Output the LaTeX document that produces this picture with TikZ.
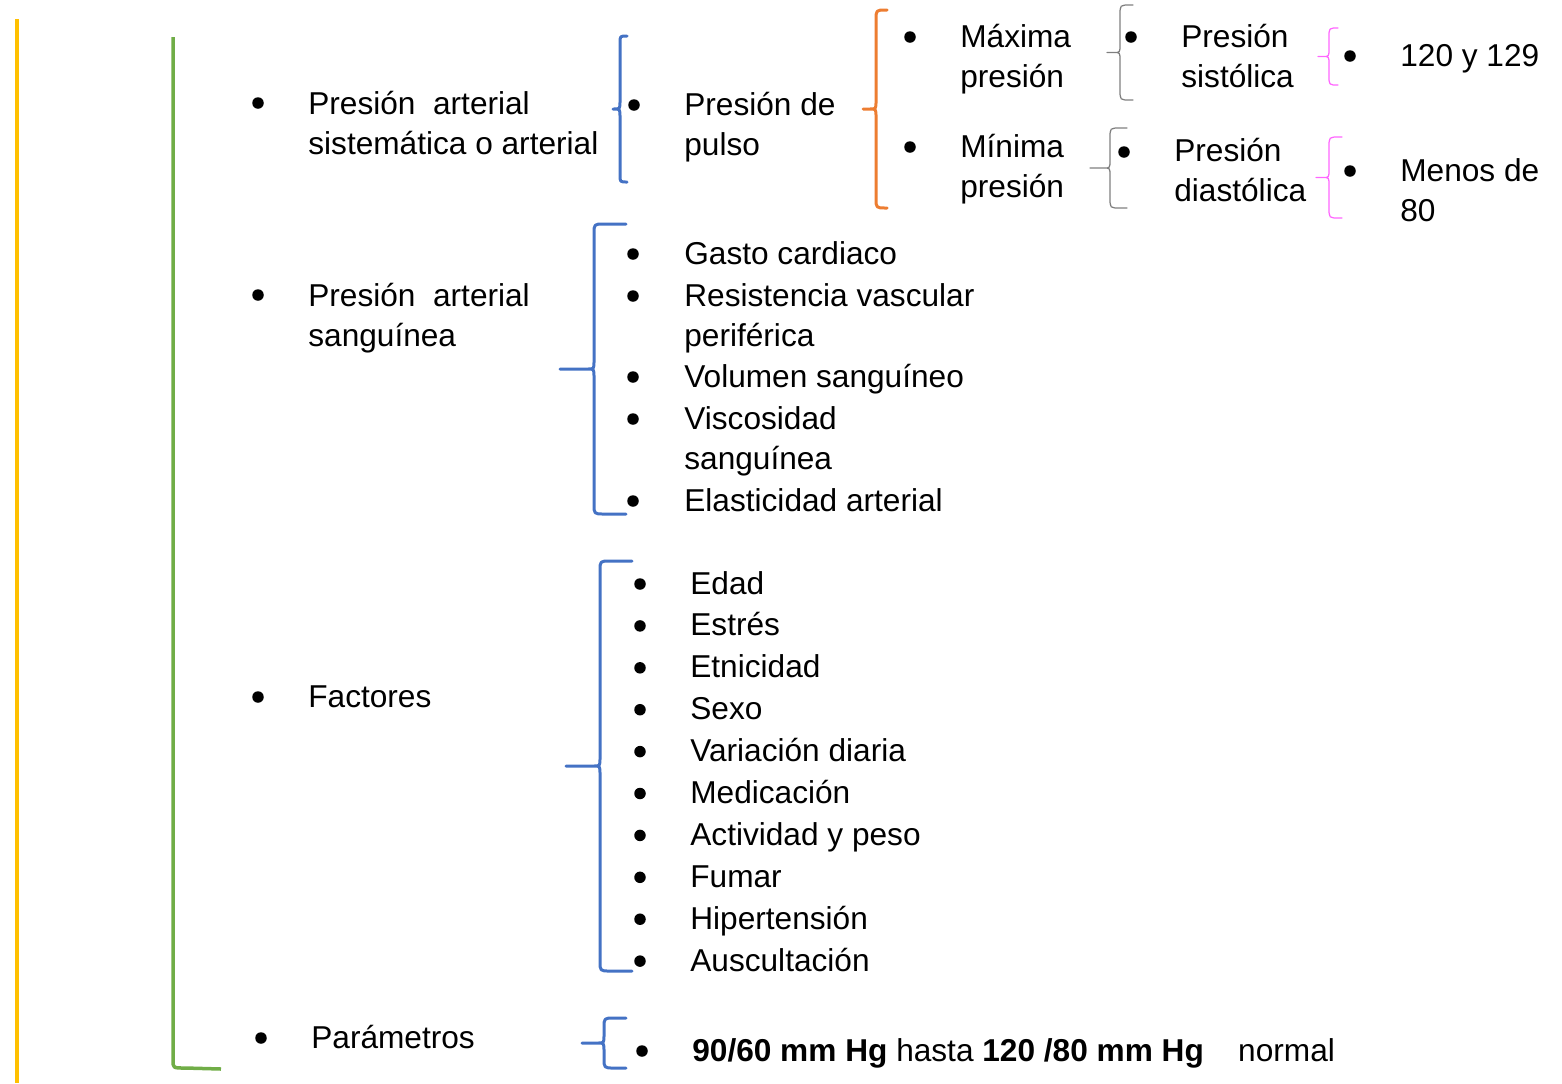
\documentclass[tikz,border=0pt]{standalone}
\usepackage{fontspec}
\setmainfont{Liberation Sans}

\definecolor{amarillo}{HTML}{FFC000}
\definecolor{verde}{HTML}{70AD47}
\definecolor{azul}{HTML}{4472C4}
\definecolor{naranja}{HTML}{ED7D31}
\definecolor{gris}{HTML}{7F7F7F}
\definecolor{rosa}{HTML}{FF66FF}

\tikzset{
  txt/.style={anchor=west, inner sep=0pt, align=left,
    font=\fontsize{18}{22.8}\selectfont},
  linea/.style={txt, anchor=base west},
  gruesa/.style={line width=0.06cm, line cap=round, line join=round},
  fina/.style={line width=0.025cm, line cap=round, line join=round}
}

% llave: estilo, x, y arriba, y abajo, x punta, x brazos
\newcommand{\llave}[6]{%
  \pgfmathsetmacro{\ymid}{(#3+#4)/2}%
  \pgfmathsetmacro{\rr}{min(10,#6-#2)}%
  \draw[#1] (#6,#3) -- (#2+\rr,#3) .. controls (#2,#3) .. (#2,#3+\rr)
    -- (#2,\ymid-8) .. controls (#2,\ymid) .. (#2-6,\ymid) -- (#5,\ymid)
    -- (#2-6,\ymid) .. controls (#2,\ymid) .. (#2,\ymid+8)
    -- (#2,#4-\rr) .. controls (#2,#4) .. (#2+\rr,#4) -- (#6,#4);
}
\newcommand{\punto}[2]{\fill (#1,#2) circle[radius=0.115cm];}

\begin{document}
\begin{tikzpicture}[x=0.02cm, y=-0.02cm]
  \useasboundingbox (0,0) rectangle (1562,1083);

  \draw[amarillo, line width=0.08cm] (17,19) -- (17,1083);
  \draw[verde, line width=0.07cm, line join=round] (173,37) -- (173,1060)
    .. controls (173,1068) .. (185,1068) -- (221,1069);

  % primera columna
  \punto{258}{103} \punto{258}{295} \punto{258}{697} \punto{261}{1038}
  \node[txt] (sist) at (308,123) {Presión\ \ arterial\\sistemática o arterial};
  \node[txt] (sang) at (308,318) {Presión\ \ arterial\\sanguínea};
  \node[linea] (fact) at (308,707) {Factores};
  \node[linea] (param) at (311,1048) {Parámetros};

  % presion de pulso
  \llave{azul, gruesa}{620}{36}{182}{613}{627}
  \punto{634}{105}
  \node[txt] (pulso) at (684,127) {Presión de\\pulso};

  \llave{naranja, gruesa}{876}{10}{208}{863}{887}
  \punto{910}{37} \punto{910}{147}
  \node[txt] (max) at (960,59) {Máxima\\presión};
  \node[txt] (min) at (960,169) {Mínima\\presión};

  \llave{gris, fina}{1120}{5}{100}{1107}{1133}
  \llave{gris, fina}{1110}{128}{208}{1090}{1127}
  \punto{1131}{37} \punto{1124}{152}
  \node[txt] (sistol) at (1181,56) {Presión\\sistólica};
  \node[txt] (diastol) at (1174,170) {Presión\\diastólica};

  \llave{rosa, fina}{1329}{28}{85}{1318}{1338}
  \llave{rosa, fina}{1329}{137}{218}{1316}{1342}
  \punto{1350}{56} \punto{1350}{171}
  \node[linea] (v120) at (1400,66) {120 y 129};
  \node[txt] (v80) at (1400,190) {Menos de\\80};

  % presion sanguinea
  \llave{azul, gruesa}{594}{224}{514}{560}{626}
  \foreach \y in {254,296,377,419,501} {\punto{633}{\y}}
  \node[linea] (gasto) at (684,264) {Gasto cardiaco};
  \node[txt] (resist) at (684,318) {Resistencia vascular\\periférica};
  \node[linea] (vol) at (684,387) {Volumen sanguíneo};
  \node[txt] (visc) at (684,441) {Viscosidad\\sanguínea};
  \node[linea] (elast) at (684,511) {Elasticidad arterial};

  % factores
  \llave{azul, gruesa}{600}{561}{971}{566}{632}
  \foreach \t [count=\i from 0] in {Edad, Estrés, Etnicidad, Sexo,
      Variación diaria, Medicación, Actividad y peso, Fumar,
      Hipertensión, Auscultación} {
    \punto{640}{584+41.9*\i}
    \node[linea] (f\i) at (690,594+41.9*\i) {\t};
  }

  % parametros
  \llave{azul, gruesa}{604}{1018}{1068}{582}{626}
  \punto{642}{1051}
  \node[linea] (norm) at (692,1061)
    {\textbf{90/60 mm Hg} hasta \textbf{120 /80 mm Hg}\ \ \ \hspace{0.16cm}normal};
\end{tikzpicture}
\end{document}
